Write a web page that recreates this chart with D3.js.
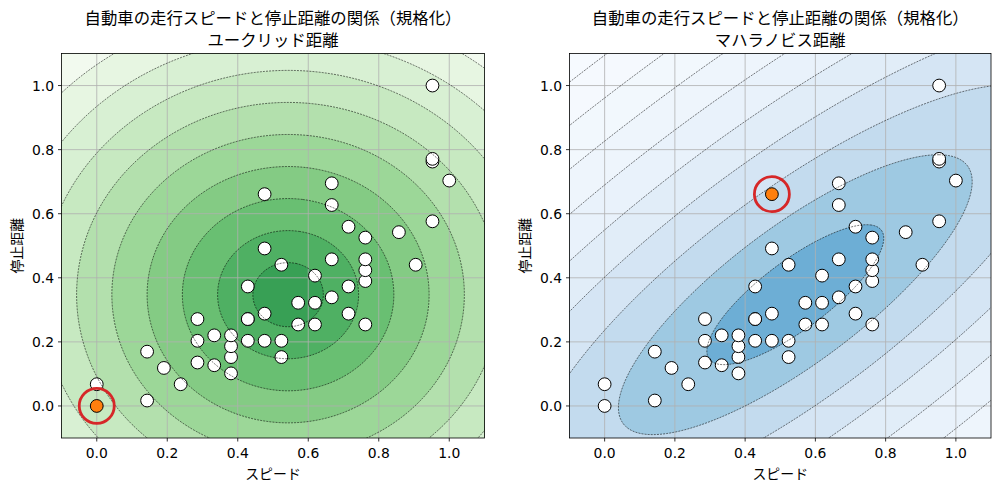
<!DOCTYPE html>
<html><head><meta charset="utf-8">
<script src="https://cdn.jsdelivr.net/npm/d3@7"></script>
<style>body{margin:0;background:#fff}svg{display:block}</style>
</head><body>
<svg id="chart" width="1001" height="491"></svg>
<script>
// ---- data (R "cars": speed mph, stopping distance ft) ----
const speed = [4,4,7,7,8,9,10,10,10,11,11,12,12,12,12,13,13,13,13,14,14,14,14,15,15,15,16,16,17,17,17,18,18,18,18,19,19,19,20,20,20,20,20,22,23,24,24,24,24,25];
const dist  = [2,10,4,22,16,10,18,26,34,17,28,14,20,24,28,26,34,34,46,26,36,60,80,20,26,54,32,40,32,40,50,42,56,76,84,36,46,68,32,48,52,56,64,66,54,70,92,93,120,85];
const highlightIndex = [0, 22];           // left: Euclidean, right: Mahalanobis
const xTicks = [0.0, 0.2, 0.4, 0.6, 0.8, 1.0];
const yTicks = [0.0, 0.2, 0.4, 0.6, 0.8, 1.0];
const levelsEuclid = [0,0.1,0.2,0.3,0.4,0.5,0.6,0.7,0.8,0.9,1.0];
const levelsMahal  = [0,1,2,3,4,5,6,7,8,9,10];
const titleMain = "自動車の走行スピードと停止距離の関係（規格化）";
const subTitles = ["ユークリッド距離", "マハラノビス距離"];
const xLabel = "スピード";
const yLabel = "停止距離";

// ---- styles ----
const greensT = [0.665,0.595,0.525,0.455,0.385,0.315,0.245,0.175,0.105,0.035];
const bluesT  = [0.50,0.37,0.25,0.17,0.11,0.07,0.045,0.025,0.012,0.004];
const JP = "'Noto Sans CJK JP','Noto Sans',sans-serif";
const NUM = "'DejaVu Sans',sans-serif";

// ---- normalisation ----
const sMin = d3.min(speed), sMax = d3.max(speed);
const dMin = d3.min(dist),  dMax = d3.max(dist);
const X = speed.map(v => (v - sMin) / (sMax - sMin));
const Y = dist.map(v => (v - dMin) / (dMax - dMin));
const n = X.length;
const mx = d3.mean(X), my = d3.mean(Y);
let sxx = 0, syy = 0, sxy = 0;
for (let i = 0; i < n; i++) { const a = X[i]-mx, b = Y[i]-my; sxx += a*a; syy += b*b; sxy += a*b; }
sxx /= (n-1); syy /= (n-1); sxy /= (n-1);
const det = sxx*syy - sxy*sxy;
const euclid = (x, y) => Math.hypot(x-mx, y-my);
const mahal = (x, y) => { const a = x-mx, b = y-my; return Math.sqrt((syy*a*a - 2*sxy*a*b + sxx*b*b)/det); };

const svg = d3.select("#chart");
const panels = [
  {left: 61.5, right: 484.5, fn: euclid, levels: levelsEuclid, colors: greensT.map(t => d3.interpolateGreens(t))},
  {left: 569.5, right: 991,  fn: mahal,  levels: levelsMahal,  colors: bluesT.map(t => d3.interpolateBlues(t))}
];
const axTop = 53.5, axBottom = 438;

panels.forEach((p, k) => {
  const xs = d3.scaleLinear().domain([-0.1, 1.1]).range([p.left, p.right]);
  const ys = d3.scaleLinear().domain([-0.1, 1.1]).range([axBottom, axTop]);
  const g = svg.append("g");
  const clipId = "clip" + k;
  svg.append("clipPath").attr("id", clipId).append("rect")
    .attr("x", p.left).attr("y", axTop).attr("width", p.right - p.left).attr("height", axBottom - axTop);

  // grid of values
  const g0 = -0.16, step = 0.004, N = Math.round(1.32/step) + 1;
  const vals = new Float64Array(N*N);
  for (let j = 0; j < N; j++) for (let i = 0; i < N; i++) vals[j*N+i] = p.fn(g0 + i*step, g0 + j*step);
  const contours = d3.contours().size([N, N]).thresholds(p.levels)(vals);
  const proj = d3.geoTransform({point: function(cx, cy) {
    this.stream.point(xs(g0 + (cx-0.5)*step), ys(g0 + (cy-0.5)*step));
  }});
  const path = d3.geoPath(proj);

  const fills = g.append("g").attr("clip-path", `url(#${clipId})`);
  fills.selectAll("path").data(contours).join("path")
    .attr("d", path).attr("fill", (d, i) => p.colors[Math.min(i, p.colors.length-1)]).attr("stroke", "none");

  // grid lines
  const grid = g.append("g").attr("stroke", "#b0b0b0").attr("stroke-width", 0.8);
  xTicks.forEach(t => grid.append("line").attr("x1", xs(t)).attr("x2", xs(t)).attr("y1", axTop).attr("y2", axBottom));
  yTicks.forEach(t => grid.append("line").attr("y1", ys(t)).attr("y2", ys(t)).attr("x1", p.left).attr("x2", p.right));

  // points
  g.append("g").selectAll("circle").data(d3.range(n).filter(i => i !== highlightIndex[k])).join("circle")
    .attr("cx", i => xs(X[i])).attr("cy", i => ys(Y[i])).attr("r", 6.4)
    .attr("fill", "#fff").attr("stroke", "#000").attr("stroke-width", 1);

  // contour lines
  const lines = g.append("g").attr("clip-path", `url(#${clipId})`);
  lines.selectAll("path").data(contours.filter(c => c.value > 0)).join("path")
    .attr("d", path).attr("fill", "none").attr("stroke", "#000")
    .attr("stroke-width", 0.55).attr("stroke-dasharray", "2,1.1");

  // highlight
  const h = highlightIndex[k];
  g.append("circle").attr("cx", xs(X[h])).attr("cy", ys(Y[h])).attr("r", 6.4)
    .attr("fill", "#ff7f0e").attr("stroke", "#000").attr("stroke-width", 1);
  g.append("circle").attr("cx", xs(X[h])).attr("cy", ys(Y[h])).attr("r", 17.5)
    .attr("fill", "none").attr("stroke", "#d62728").attr("stroke-width", 2.8);

  // frame
  g.append("rect").attr("x", p.left).attr("y", axTop).attr("width", p.right-p.left).attr("height", axBottom-axTop)
    .attr("fill", "none").attr("stroke", "#000").attr("stroke-width", 0.8);

  // axes ticks & labels
  const ax = g.append("g");
  xTicks.forEach(t => {
    ax.append("line").attr("x1", xs(t)).attr("x2", xs(t)).attr("y1", axBottom).attr("y2", axBottom+3.5).attr("stroke", "#000").attr("stroke-width", 0.8);
    ax.append("text").attr("x", xs(t)).attr("y", axBottom + 19.5).attr("text-anchor", "middle")
      .attr("font-family", NUM).attr("font-size", 13.9).text(d3.format(".1f")(t));
  });
  yTicks.forEach(t => {
    ax.append("line").attr("x1", p.left).attr("x2", p.left-3.5).attr("y1", ys(t)).attr("y2", ys(t)).attr("stroke", "#000").attr("stroke-width", 0.8);
    ax.append("text").attr("x", p.left - 7.5).attr("y", ys(t) + 5).attr("text-anchor", "end")
      .attr("font-family", NUM).attr("font-size", 13.9).text(d3.format(".1f")(t));
  });
  const cx = (p.left + p.right)/2;
  ax.append("text").attr("x", cx).attr("y", 479).attr("text-anchor", "middle")
    .attr("font-family", JP).attr("font-size", 13.9).text(xLabel);
  ax.append("text").attr("transform", `translate(${p.left - 39.5},${(axTop+axBottom)/2}) rotate(-90)`)
    .attr("text-anchor", "middle").attr("font-family", JP).attr("font-size", 13.9).text(yLabel);
  ax.append("text").attr("x", cx).attr("y", 23.5).attr("text-anchor", "middle")
    .attr("font-family", JP).attr("font-size", 16.4).text(titleMain);
  ax.append("text").attr("x", cx).attr("y", 46).attr("text-anchor", "middle")
    .attr("font-family", JP).attr("font-size", 16.4).text(subTitles[k]);
});
</script>
</body></html>
